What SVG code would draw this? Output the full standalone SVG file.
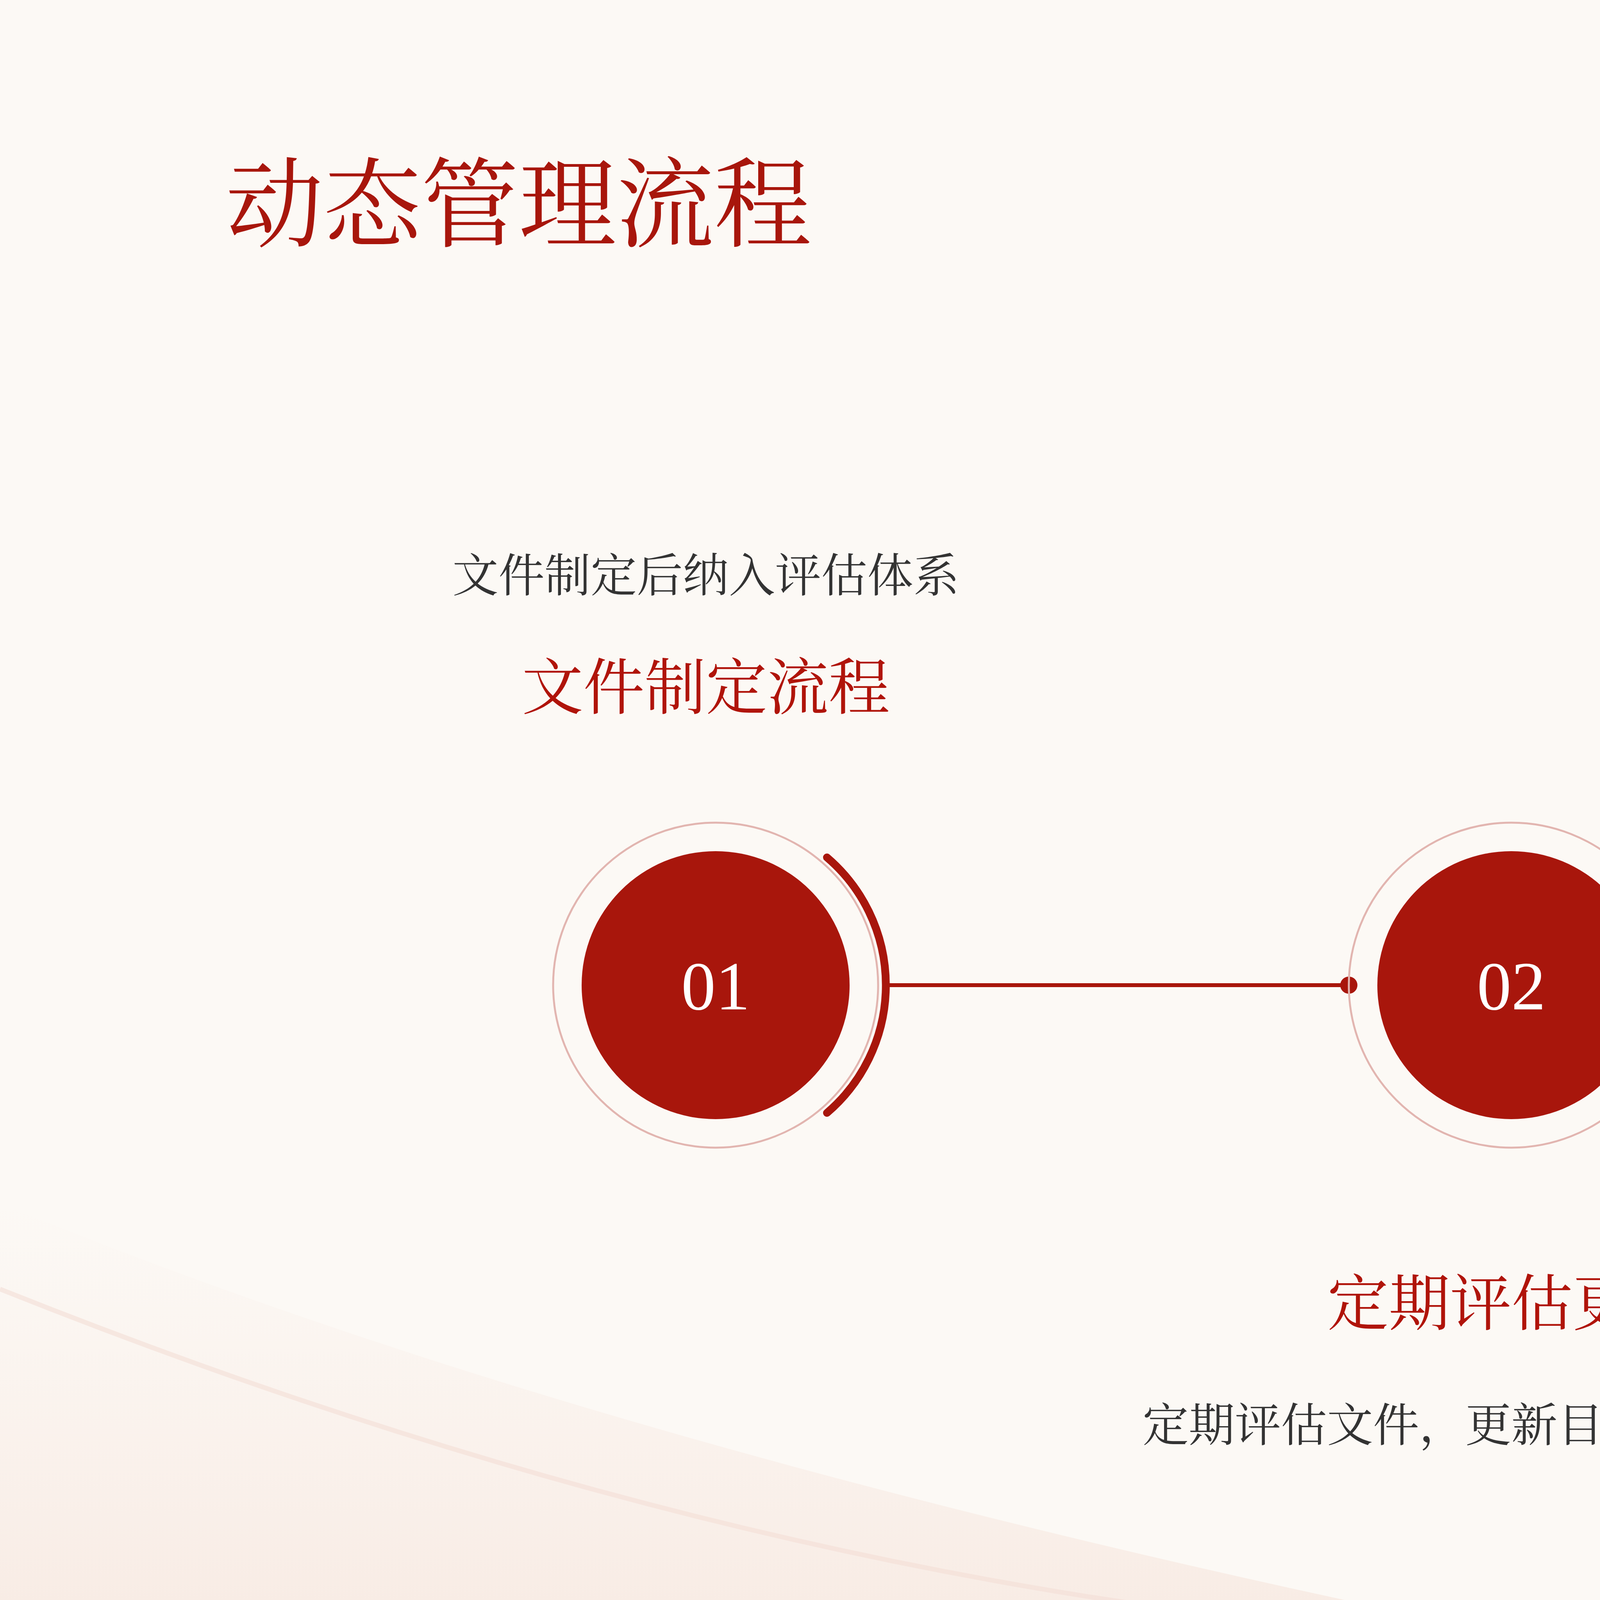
<svg xmlns="http://www.w3.org/2000/svg" width="7680" height="4320" viewBox="0 0 7680 4320">
<style>
.t{font-family:"Noto Serif CJK SC","Noto Sans CJK SC",serif;}
.red{fill:#a8160c}
.desc{fill:#333;font-size:118px;text-anchor:middle}
.head{fill:#b0140a;font-size:157px;text-anchor:middle}
.num{fill:#fff;font-size:176px;text-anchor:middle;font-family:"Liberation Serif",serif}
.ring{fill:none;stroke:#e2b5b0;stroke-width:5}
.arc{fill:none;stroke:#a8160c;stroke-width:20;stroke-linecap:round}
.ln{stroke:#a8160c;stroke-width:10}
</style>
<defs>
<linearGradient id="bg" x1="0" y1="0" x2="0" y2="1">
<stop offset="0" stop-color="#f7e6df" stop-opacity="0"/>
<stop offset="1" stop-color="#f5e2d8" stop-opacity="0.7"/>
</linearGradient>
</defs>
<rect width="7680" height="4320" fill="#fcf9f5"/>
<path d="M0 3080 Q1500 3700 3840 4180 Q6200 3650 7680 3250 L7680 4320 L0 4320 Z" fill="url(#bg)"/>
<path d="M0 3300 Q2000 4100 3840 4200 Q5800 4100 7680 3500" fill="none" stroke="#f3ddd5" stroke-width="12" opacity="0.6"/>
<text class="t red" x="578" y="612" font-size="250">动态管理流程</text>
<g id="connectors">
<line class="ln" x1="2263" y1="2522" x2="3453" y2="2522"/>
<circle cx="3453" cy="2522" r="22" class="red"/>
<line class="ln" x1="4296" y1="2522" x2="5500" y2="2518"/>
<circle cx="5500" cy="2518" r="22" class="red"/>
</g>
<g id="node1">
<circle class="ring" cx="1832" cy="2522" r="416"/>
<circle class="red" cx="1832" cy="2522" r="343"/>
<path class="arc" d="M2117 2195 A430 430 0 0 1 2117 2849"/>
<text class="num" x="1832" y="2584">01</text>
<text class="t desc" x="1807" y="1515">文件制定后纳入评估体系</text>
<text class="t head" x="1807" y="1815">文件制定流程</text>
</g>
<g id="node2">
<circle class="ring" cx="3869" cy="2522" r="416"/>
<circle class="red" cx="3869" cy="2522" r="343"/>
<path class="arc" d="M4154 2195 A430 430 0 0 1 4154 2849"/>
<text class="num" x="3869" y="2584">02</text>
<text class="t head" x="3869" y="3392">定期评估更新</text>
<text class="t desc" x="3869" y="3690">定期评估文件，更新目录并系统备案</text>
</g>
<g id="node3">
<circle class="ring" cx="5887" cy="2518" r="392"/>
<circle class="red" cx="5887" cy="2518" r="313"/>
<path class="arc" d="M6152 2215 A400 400 0 0 1 6152 2821"/>
<text class="num" x="5887" y="2580">03</text>
<text class="t desc" x="5873" y="1515">失效文件即时退出目录，确保政策时效</text>
<text class="t head" x="5873" y="1815">失效文件即时处理</text>
</g>
</svg>
